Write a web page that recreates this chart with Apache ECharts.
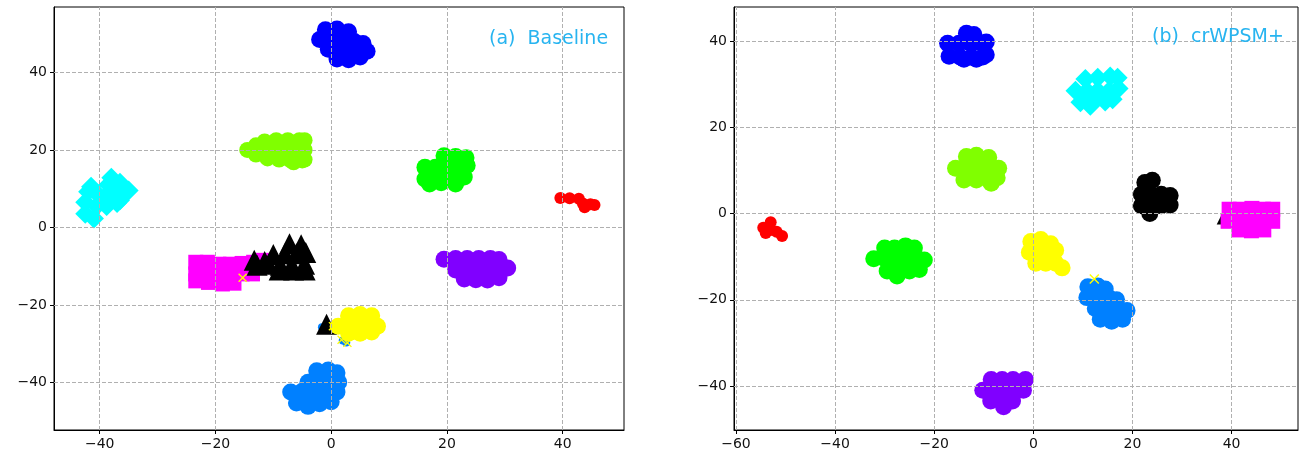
<!DOCTYPE html>
<html>
<head>
<meta charset="utf-8">
<script src="https://cdn.jsdelivr.net/npm/echarts@6/dist/echarts.min.js"></script>
<style>
  html, body { margin: 0; background: #fff; }
  #chart { width: 1301px; height: 458px; }
</style>
</head>
<body>
<div id="chart"></div>
<script>
// tick values of the two panels
const xTicksA = [-40, -20, 0, 20, 40];
const yTicksA = [-40, -20, 0, 20, 40];
const xTicksB = [-60, -40, -20, 0, 20, 40];
const yTicksB = [-40, -20, 0, 20, 40];

// (a) Baseline - embedded points
const blueA = [[-1,51],[1,51.2],[3,50.5],[-2,48.5],[0,48.5],[2,48.5],[4,48],[5.5,47.5],[-0.5,46],[1.5,46],[3.5,46],[5.5,46],[6.2,45.5],[1,43.5],[3,43.3],[5,44]];
const limeA = [[-14.5,20],[-12.5,20],[-10.5,20],[-8.5,20],[-6.5,20],[-4.6,20],[-11.5,22.2],[-9.5,22.5],[-7.5,22.5],[-5.5,22.5],[-4.6,22.5],[-11,17.8],[-9,17.5],[-7,17.3],[-5,17.3],[-4.6,17.5],[-6.5,16.8],[-13,21.2],[-13,18.8]];
const greenA = [[19.5,18.5],[21.5,18.3],[23.3,18],[16.2,15.5],[18,15.5],[20,15.5],[22,15.5],[23.5,16],[16.2,12.5],[18,12.5],[20,12.5],[22,12.5],[23,13],[17,11.2],[21.5,11.2],[19,11.5]];
const redA = [[39.6,7.6],[41.2,7.5],[42.8,7.4],[43.5,6.2],[44.8,6],[45.5,5.8],[43.8,5.2]];
const cyanA = [[-42.5,3.5],[-41,2.3],[-42.5,6.5],[-40.5,5.5],[-42,9.2],[-41.5,10.5],[-40.3,8.5],[-39,8],[-38.5,11],[-38,12.8],[-37.5,9.5],[-36.5,7],[-36.5,11.5],[-35,9.5],[-37,6.3],[-38.8,5.5]];
const violetA = [[19.5,-8.2],[21.5,-8],[23.5,-8],[25.5,-8],[27.5,-8],[29,-8.3],[21.5,-11],[23.5,-11],[25.5,-11],[27.5,-11],[29.5,-11],[30.5,-10.5],[23,-13.3],[25,-13.5],[27,-13.6],[29,-13]];
const magentaA = [[-23.4,-9],[-21.4,-9],[-19.4,-9.5],[-17.4,-9.5],[-15.4,-9.3],[-13.4,-9],[-11.8,-8.5],[-23.4,-12],[-21.4,-12],[-19.4,-12],[-17.4,-12.3],[-15.4,-12],[-13.6,-12],[-23.4,-13.8],[-21.2,-14.2],[-18.8,-14.6],[-16.8,-14.4]];
const blackA = [[-7.2,-4.2],[-5.2,-4.5],[-10,-7],[-8,-6.8],[-6,-6.8],[-4.4,-6.5],[-12.8,-9.8],[-10.8,-9.5],[-8.8,-9.8],[-6.8,-9.8],[-4.6,-9.5],[-9,-11],[-6.5,-11],[-4.5,-11],[-13.3,-8.5],[-11.5,-8.8],[-0.8,-25]];
const yellowA = [[3,-22.8],[5,-22.5],[7,-22.8],[1.2,-25.5],[3,-25.5],[5,-25.3],[7,-25.5],[8,-25.5],[3,-27.3],[5,-27.3],[7,-27]];
const azureA = [[-2.5,-37],[-0.5,-36.8],[1,-37.5],[-4,-40],[-2,-40],[0,-40],[1.3,-40],[-7,-42.5],[-5,-42.3],[-3,-42.5],[-1,-42.5],[1,-42.5],[-6,-45.3],[-4,-45.5],[-2,-45.5],[0,-45],[-4,-46.2]];
const azureBitsA = [[-1.6,-25.8],[2,-29.2],[2.6,-29.7]];
const yellowBitsA = [[-15.3,-13],[0.3,-25.5],[1.8,-29],[2.8,-29.8]];

// (b) crWPSM+
const blueB = [[-13.5,41.8],[-12,41.5],[-17.3,39.5],[-15,39.5],[-12.7,39.5],[-10.5,39.5],[-9.5,39.8],[-17,36.5],[-14.8,36.3],[-12.5,36.3],[-10.2,36.3],[-9.5,36.8],[-14,35.8],[-11.5,35.8]];
const cyanB = [[10.5,31.2],[13,31.5],[15.5,31.8],[17,31.5],[8.5,28.5],[10.8,28.5],[13,28.5],[15.3,28.5],[17.2,29],[9.5,25.8],[12,25.8],[14.5,26],[16,26.5],[11.5,25]];
const limeB = [[-13.5,13.2],[-11.5,13.5],[-9,13],[-15.7,10.5],[-13.5,10.5],[-11.2,10.5],[-9,10.5],[-7,10.5],[-14,7.8],[-11.5,7.8],[-9,7.8],[-7.3,8.3],[-8.5,7]];
const blackB = [[22.5,7.2],[24,7.7],[21.8,4.5],[23.7,4.5],[25.8,4.5],[27.6,4.2],[21.8,1.8],[23.7,1.8],[25.8,1.8],[27.6,2],[23.5,0]];
const magentaB = [[39.5,1],[41.8,1],[44.1,1.2],[46.4,1],[48.3,1],[39.3,-1.8],[41.6,-1.8],[44,-1.8],[46.3,-1.8],[48.3,-1.8],[41.5,-3.8],[44,-4],[46.5,-3.8]];
const blackBitsB = [[37.9,-1.5]];
const redB = [[-54.5,-3.3],[-53,-2],[-53,-3.8],[-51.8,-4.2],[-50.7,-5.2],[-54,-4.5]];
const greenB = [[-30,-8],[-28,-8],[-25.8,-7.5],[-24,-8],[-32.2,-10.5],[-30,-10.5],[-27.8,-10.5],[-25.5,-10.5],[-23.3,-10.5],[-22,-10.8],[-29.5,-13.3],[-27.3,-13.3],[-25,-13.3],[-23,-13],[-27.5,-14.5]];
const yellowB = [[-0.5,-6.5],[1.5,-6],[3.5,-7],[-0.8,-9],[1.2,-9],[3.2,-9],[4.5,-8.5],[0.5,-11.5],[2.5,-11.5],[4.5,-11.5],[5.8,-12.6]];
const azureB = [[11,-17],[13,-16.8],[14.5,-17.5],[10.8,-19.5],[13,-19.5],[15.2,-19.5],[16.8,-20],[12.5,-22],[14.8,-22],[17,-22],[18.9,-22.5],[13.5,-24.5],[15.8,-25],[18,-24.5]];
const yellowBitsB = [[12.3,-15.2]];
const violetB = [[-8.5,-38.5],[-6.3,-38.5],[-4.1,-38.5],[-1.6,-38.5],[-10.2,-41],[-8,-41],[-5.8,-41],[-3.6,-41],[-2,-41],[-8.6,-43.5],[-6.4,-43.5],[-4.2,-43.5],[-6,-44.8]];

const crossPath = 'path://M0,1 L1,0 L5,4 L9,0 L10,1 L6,5 L10,9 L9,10 L5,6 L1,10 L0,9 L4,5 Z';

function cluster(data, color, g, symbol, size) {
  return {
    type: 'scatter',
    xAxisIndex: g, yAxisIndex: g,
    data: data,
    symbol: symbol || 'circle',
    symbolSize: size || 17,
    itemStyle: { color: color, opacity: 1 },
    z: 2,
    silent: true
  };
}

// dashed grid lines, drawn over the points like in the source figure
function gridLines(g, xs, ys) {
  return {
    type: 'scatter', xAxisIndex: g, yAxisIndex: g, data: [], z: 5,
    markLine: {
      silent: true, symbol: ['none', 'none'], label: { show: false },
      lineStyle: { color: '#b0b0b0', type: [4, 2], width: 1 },
      data: xs.map(v => ({ xAxis: v })).concat(ys.map(v => ({ yAxis: v })))
    }
  };
}

const fmt = v => String(v).replace('-', '\u2212');

function axis(g, min, max, ticks) {
  return {
    type: 'value', gridIndex: g, min: min, max: max,
    axisLine: { show: true, onZero: false, lineStyle: { color: '#000', width: 1 } },
    axisTick: { show: true, length: 4, lineStyle: { color: '#000' }, customValues: ticks },
    axisLabel: { customValues: ticks, formatter: fmt, fontSize: 14, color: '#111', margin: 7, fontFamily: 'DejaVu Sans' },
    splitLine: { show: false }
  };
}

const titleStyle = { color: '#27b4f0', fontSize: 19, fontWeight: 'normal', fontFamily: 'DejaVu Sans' };

const chart = echarts.init(document.getElementById('chart'));
chart.setOption({
  animation: false,
  title: [
    { text: '(a)  Baseline', left: 489, top: 30, padding: 0, textStyle: titleStyle },
    { text: '(b)  crWPSM+', left: 1152, top: 28, padding: 0, textStyle: titleStyle }
  ],
  grid: [
    { left: 54, top: 7, width: 570, height: 423, show: true, borderColor: '#000', borderWidth: 1 },
    { left: 734, top: 7, width: 564, height: 423, show: true, borderColor: '#000', borderWidth: 1 }
  ],
  xAxis: [axis(0, -47.9, 50.6, xTicksA), axis(1, -60.4, 53.4, xTicksB)],
  yAxis: [axis(0, -52.3, 56.9, yTicksA), axis(1, -50.2, 47.9, yTicksB)],
  series: [
    cluster(blueA, '#0000ff', 0),
    cluster(limeA, '#80ff00', 0, 'circle', 16),
    cluster(greenA, '#00ff00', 0),
    cluster(redA, '#ff0000', 0, 'circle', 12),
    cluster(cyanA, '#00ffff', 0, 'diamond', 20),
    cluster(violetA, '#8000ff', 0),
    cluster(magentaA, '#ff00ff', 0, 'rect', 15),
    cluster(azureBitsA, '#0080ff', 0, 'circle', 8),
    cluster(blackA, '#000000', 0, 'triangle', 21),
    cluster(yellowA, '#ffff00', 0),
    cluster(yellowBitsA, '#ffff00', 0, crossPath, 9),
    cluster(azureA, '#0080ff', 0),
    gridLines(0, xTicksA, yTicksA),

    cluster(blueB, '#0000ff', 1),
    cluster(cyanB, '#00ffff', 1, 'diamond', 20),
    cluster(limeB, '#80ff00', 1),
    cluster(blackBitsB, '#000000', 1, 'triangle', 9),
    cluster(magentaB, '#ff00ff', 1, 'rect', 15),
    cluster(blackB, '#000000', 1, 'circle', 17),
    cluster(redB, '#ff0000', 1, 'circle', 12),
    cluster(greenB, '#00ff00', 1),
    cluster(yellowB, '#ffff00', 1),
    cluster(azureB, '#0080ff', 1),
    cluster(yellowBitsB, '#ffff00', 1, crossPath, 10),
    cluster(violetB, '#8000ff', 1),
    gridLines(1, xTicksB, yTicksB)
  ]
});
window.addEventListener('resize', () => chart.resize());
</script>
</body>
</html>
